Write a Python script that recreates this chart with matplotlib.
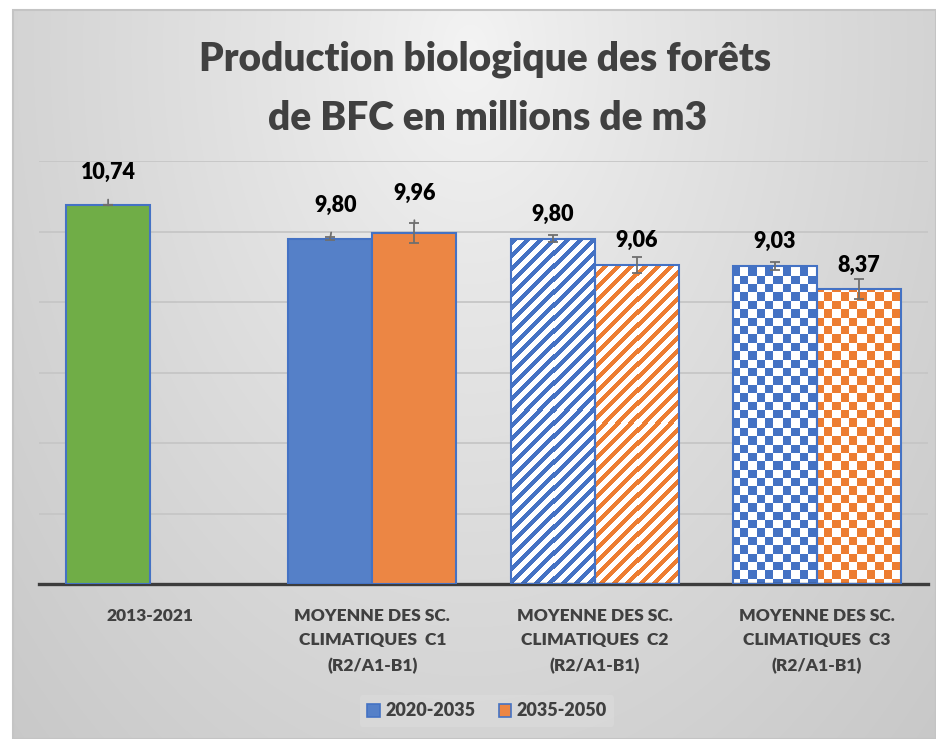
import matplotlib.pyplot as plt
import numpy as np
from matplotlib.patches import Patch, Rectangle
from matplotlib.colors import to_rgb

categories = ['2013-2021',
              'MOYENNE DES SC.\nCLIMATIQUES  C1\n(R2/A1-B1)',
              'MOYENNE DES SC.\nCLIMATIQUES  C2\n(R2/A1-B1)',
              'MOYENNE DES SC.\nCLIMATIQUES  C3\n(R2/A1-B1)']
hist_value = 10.74
p1_values = [9.80, 9.80, 9.03]   # 2020-2035
p1_err = [0.03, 0.10, 0.11]
p2_values = [9.96, 9.06, 8.37]   # 2035-2050
p2_err = [0.28, 0.23, 0.28]
fills = ['solid', 'stripes', 'checks']
legend_labels = ['2020-2035', '2035-2050']
title_lines = ['Production biologique des forêts', 'de BFC en millions de m3']

green = '#70ad47'
blue = '#5580c8'
orange = '#ec8644'
blue_p = '#4472c4'
orange_p = '#ed7d31'
edge = '#4472c4'
txt = '#404040'
errc = '#6f6f6f'
FONT = 'Lato'
WGT = 'heavy'

W, H = 936, 739
fig = plt.figure(figsize=(W / 100, H / 100), dpi=100)
fig.patch.set_facecolor('white')

# background gradient (chart area)
bg = fig.add_axes([0, 0, 1, 1], zorder=-10)
bg.set_xlim(0, W)
bg.set_ylim(H, 0)
bg.axis('off')
gx, gy = np.meshgrid(np.arange(13, W), np.arange(10, H))
r = np.sqrt(((gx - 470) / 470.0) ** 2 + ((gy - 50) / 700.0) ** 2)
v = (244 - 33 * np.minimum(r, 1.5) ** 0.85) / 255.0
bg.imshow(np.dstack([v, v, v]), extent=(13, W, H, 10), aspect='auto', interpolation='bilinear')
bg.add_patch(Rectangle((13, 10), W - 13, H - 10, fill=False, edgecolor='#c4c4c4', lw=1.5))

ax = fig.add_axes([39 / W, 1 - 584 / H, (928 - 39) / W, (584 - 161) / H])
ax.patch.set_alpha(0)
ax.set_xlim(-0.5, 3.5)
ax.set_ylim(0, 12)

bw = 0.378
off = bw / 2
x = np.arange(len(categories))


def pattern_fill(bar, color, kind):
    bb = bar.get_window_extent()
    w = max(int(round(bb.width)), 1)
    h = max(int(round(bb.height)), 1)
    xx, yy = np.meshgrid(np.arange(w) + bb.x0, np.arange(h) + bb.y0)
    if kind == 'stripes':
        mask = ((xx - yy) % 13) < 6.5
    else:
        mask = ((np.floor(xx / 8.4) + np.floor(yy / 8.4)) % 2) == 0
    img = np.ones((h, w, 3))
    img[mask] = to_rgb(color)
    x0, y0 = bar.get_x(), bar.get_y()
    im = ax.imshow(img, extent=(x0, x0 + bar.get_width(), y0, y0 + bar.get_height()),
                   origin='lower', aspect='auto', interpolation='nearest', zorder=2)
    im.set_clip_path(bar)


# historical bar
hb = ax.bar(x[0] - off, hist_value, bw, color=green, edgecolor=edge, lw=1.5, zorder=3)
ax.errorbar(x[0] - off, hist_value, yerr=0.0, fmt='none', ecolor=errc, elinewidth=1.3,
            capsize=3.6, capthick=1.5, zorder=4)

xs = x[1:]
for vals, errs, cp, cs, pos in [(p1_values, p1_err, blue, blue_p, xs - off),
                                (p2_values, p2_err, orange, orange_p, xs + off)]:
    for i in range(len(vals)):
        if fills[i] == 'solid':
            ax.bar(pos[i], vals[i], bw, color=cp, edgecolor=edge, lw=1.5, zorder=3)
        else:
            b = ax.bar(pos[i], vals[i], bw, facecolor='none', edgecolor=edge, lw=1.5, zorder=3)[0]
            pattern_fill(b, cs, fills[i])
    ax.errorbar(pos, vals, yerr=errs, fmt='none', ecolor=errc, elinewidth=1.3,
                capsize=3.6, capthick=1.3, zorder=4)

ax.set_xlim(-0.5, 3.5)
ax.set_ylim(0, 12)

# data labels (moved labels get a leader line)
lab_kw = dict(textcoords='offset pixels', ha='center', va='center', fontsize=15.5,
              fontweight=WGT, color='black', family=FONT, zorder=5)
lead = dict(arrowstyle='-', color=errc, lw=1.3, shrinkA=10, shrinkB=0)


def fmt(v):
    return ('%.2f' % v).replace('.', ',')


ax.annotate(fmt(hist_value), xy=(x[0] - off, hist_value), xytext=(0, 33), arrowprops=lead, **lab_kw)
for i, (v, e) in enumerate(zip(p1_values, p1_err)):
    if i == 0:
        ax.annotate(fmt(v), xy=(xs[i] - off, v + e), xytext=(5, 32), arrowprops=lead, **lab_kw)
    else:
        ax.annotate(fmt(v), xy=(xs[i] - off, v), xytext=(0, 24), **lab_kw)
for i, (v, e) in enumerate(zip(p2_values, p2_err)):
    if i == 0:
        ax.annotate(fmt(v), xy=(xs[i] + off, v + e), xytext=(0, 30), arrowprops=lead, **lab_kw)
    else:
        ax.annotate(fmt(v), xy=(xs[i] + off, v), xytext=(0, 24), **lab_kw)

ax.set_yticks(np.arange(0, 13, 2))
ax.set_yticklabels([])
ax.tick_params(axis='y', length=0)
ax.yaxis.grid(True, color='#c6c6c6', lw=1.3)
ax.set_axisbelow(True)
ax.set_xticks(x)
ax.set_xticklabels(categories, fontsize=12.5, fontweight=WGT, color=txt, family=FONT,
                   linespacing=1.68)
ax.tick_params(axis='x', length=0, pad=17)
for s in ['top', 'right', 'left']:
    ax.spines[s].set_visible(False)
ax.spines['bottom'].set_color('#3c3c3c')
ax.spines['bottom'].set_linewidth(2.4)

fig.text(0.518, 1 - 70 / H, title_lines[0], ha='center', va='baseline', fontsize=28,
         fontweight=WGT, color=txt, family=FONT)
fig.text(0.521, 1 - 130 / H, title_lines[1], ha='center', va='baseline', fontsize=28,
         fontweight=WGT, color=txt, family=FONT)

handles = [Patch(facecolor=blue, edgecolor=edge, lw=1.2), Patch(facecolor=orange, edgecolor=edge, lw=1.2)]
leg = fig.legend(handles, legend_labels, loc='center', bbox_to_anchor=(487 / W, 1 - 711 / H), ncol=2,
                 frameon=True, handlelength=0.7, handleheight=0.7, handletextpad=0.3,
                 columnspacing=1.3, prop={'family': FONT, 'weight': WGT, 'size': 13})
leg.get_frame().set_facecolor('#dcdcdc')
leg.get_frame().set_edgecolor('none')
leg.get_frame().set_alpha(0.6)
for t in leg.get_texts():
    t.set_color(txt)

fig.savefig('out.png', dpi=100)
